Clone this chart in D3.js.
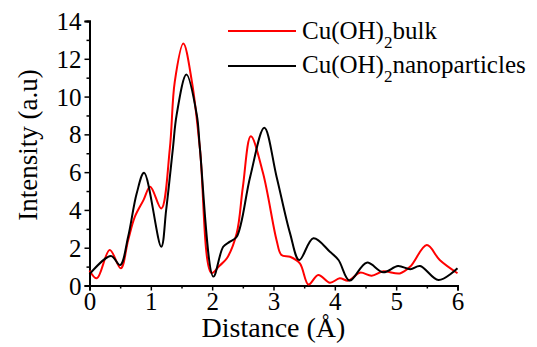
<!DOCTYPE html>
<html><head><meta charset="utf-8">
<script src="https://cdn.jsdelivr.net/npm/d3@7"></script>
<style>body{margin:0;background:#fff}svg{display:block}text{font-family:"Liberation Serif","Times New Roman",serif;fill:#000}</style>
</head><body>
<svg id="c" width="537" height="347"></svg>
<script>
const bulkX = [0,0.12,0.33,0.51,0.63,0.74,0.88,0.99,1.17,1.31,1.39,1.53,1.67,1.80,1.99,2.12,2.24,2.40,2.50,2.63,2.83,3.05,3.13,3.27,3.43,3.57,3.73,3.92,4.08,4.22,4.41,4.60,4.79,5.06,5.23,5.50,5.71,6.0];
const bulkY = [0.8,0.38,1.88,0.91,2.4,3.64,4.52,5.23,4.08,7.26,10.78,12.81,10.78,7.26,0.66,1.05,1.44,2.76,5.2,7.9,5.94,2.4,1.61,1.52,1.17,0.05,0.56,0.15,0.38,0.26,0.68,0.52,0.75,0.64,1.0,2.14,1.35,0.65];
const nanoX = [0,0.35,0.50,0.63,0.77,0.89,1.17,1.25,1.36,1.42,1.58,1.75,1.80,2.02,2.18,2.29,2.40,2.62,2.85,3.05,3.27,3.42,3.65,3.92,4.06,4.24,4.52,4.79,5.03,5.23,5.39,5.69,6.0];
const nanoY = [0.6,1.56,1.08,2.58,4.88,5.97,2.05,4.0,7.26,9.02,11.17,9.02,7.26,0.47,2.05,2.32,2.58,5.76,8.35,5.76,2.76,1.35,2.5,1.79,1.35,0.26,1.21,0.70,1.03,0.86,1.03,0.29,0.91];
const xTicks = [0,1,2,3,4,5,6];
const yTicks = [0,2,4,6,8,10,12,14];
const seriesNames = ["Cu(OH)", "bulk", "nanoparticles"];

const svg = d3.select("#c");
const x = d3.scaleLinear().domain([0,6]).range([89.5,457.5]);
const y = d3.scaleLinear().domain([0,14]).range([285.5,21]);
const FF = "'Liberation Serif','Times New Roman',serif";

const xAxis = d3.axisBottom(x).tickValues(xTicks).tickSize(5).tickFormat(d3.format("d"));
const yAxis = d3.axisLeft(y).tickValues(yTicks).tickSize(5).tickFormat(d3.format("d"));
const gx = svg.append("g").attr("transform",`translate(0,${y(0)})`).call(xAxis).attr("font-family",FF);
const gy = svg.append("g").attr("transform",`translate(${x(0)},0)`).call(yAxis).attr("font-family",FF);
svg.append("g").attr("transform",`translate(0,${y(0)})`)
  .call(d3.axisBottom(x).tickValues([0.5,1.5,2.5,3.5,4.5,5.5]).tickSize(3).tickFormat(""));
svg.append("g").attr("transform",`translate(${x(0)},0)`)
  .call(d3.axisLeft(y).tickValues([1,3,5,7,9,11,13]).tickSize(3).tickFormat(""));
svg.selectAll(".domain").attr("stroke","#000").attr("stroke-width",2);
svg.selectAll(".tick line").attr("stroke","#000").attr("stroke-width",1.5);
gx.selectAll(".tick text").attr("font-size",25).attr("dy",null).attr("y",24);
gy.selectAll(".tick text").attr("font-size",25).attr("x",-8).attr("dy","0.34em");
svg.selectAll(".tick text").style("font-family",FF);

const line = d3.line().x(d=>x(d[0])).y(d=>y(d[1])).curve(d3.curveCatmullRom.alpha(0.5));
svg.append("path").datum(bulkX.map((v,i)=>[v,bulkY[i]]))
  .attr("d",line).attr("fill","none").attr("stroke","#ff0000").attr("stroke-width",2);
svg.append("path").datum(nanoX.map((v,i)=>[v,nanoY[i]]))
  .attr("d",line).attr("fill","none").attr("stroke","#000").attr("stroke-width",2);

svg.append("text").attr("x",x(3)).attr("y",337).attr("text-anchor","middle")
  .attr("font-size",28).text("Distance (Å)");
svg.append("text").attr("transform","translate(37,145) rotate(-90)").attr("text-anchor","middle")
  .attr("font-size",27).text("Intensity (a.u)");

const leg = [{c:"#ff0000",t:seriesNames[1],y:31},{c:"#000",t:seriesNames[2],y:66}];
leg.forEach((l,i)=>{
  svg.append("line").attr("x1",228).attr("x2",296).attr("y1",l.y).attr("y2",l.y)
    .attr("stroke",l.c).attr("stroke-width",2);
  const t = svg.append("text").attr("x",302).attr("y",i?73:38.5).attr("font-size",25);
  t.append("tspan").text(seriesNames[0]);
  t.append("tspan").attr("dy",9).attr("font-size",17).text("2");
  t.append("tspan").attr("dy",-9).text(l.t);
});
</script>
</body></html>
